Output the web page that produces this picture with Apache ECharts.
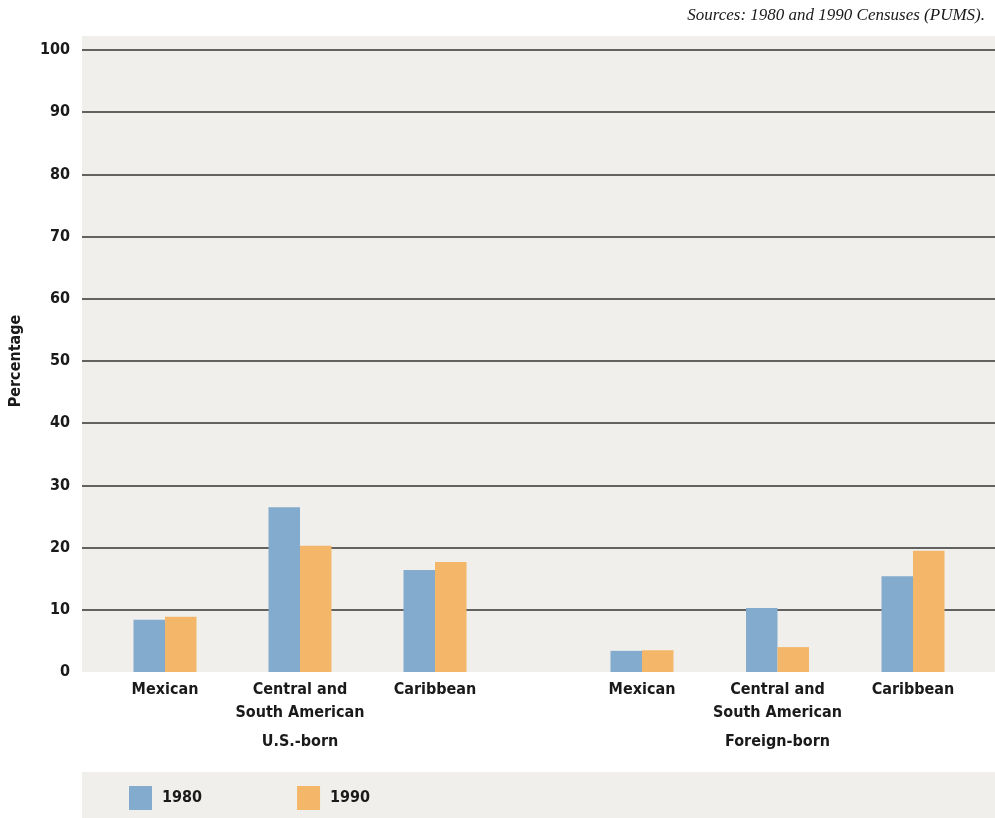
<!DOCTYPE html>
<html>
<head>
<meta charset="utf-8">
<script src="https://cdn.jsdelivr.net/npm/echarts@6/dist/echarts.min.js"></script>
<style>html,body{margin:0;padding:0;background:#fff;}#c{width:995px;height:818px;}</style>
</head>
<body>
<div id="c"></div>
<script>
var categories = ['Mexican', 'Central and\nSouth American', 'Caribbean'];
var groups = ['U.S.-born', 'Foreign-born'];
var seriesNames = ['1980', '1990'];
var usBorn1980 = [8.4, 26.5, 16.4];
var usBorn1990 = [8.9, 20.3, 17.7];
var foreign1980 = [3.4, 10.3, 15.4];
var foreign1990 = [3.5, 4.0, 19.5];
var yTicks = [0, 100, 10];

var FONT = "'Liberation Sans Narrow', 'DejaVu Sans Condensed', 'Liberation Sans', sans-serif";
var BLUE = '#82abcd', ORANGE = '#f4b669', BG = '#f0efeb';
var TXT = {fontFamily: FONT, fontSize: 16, color: '#1a1a1a', fontWeight: 'bold'};

var chart = echarts.init(document.getElementById('c'), null, {renderer: 'canvas'});
var catAxis = function (gi, name) {
  return {
    type: 'category', gridIndex: gi, data: categories,
    axisLine: {show: false}, axisTick: {show: false},
    axisLabel: Object.assign({interval: 0, margin: 6, lineHeight: 23}, TXT),
    name: name, nameLocation: 'middle', nameGap: 62,
    nameTextStyle: Object.assign({}, TXT)
  };
};
var hiddenY = function (gi) {
  return {type: 'value', gridIndex: gi, min: yTicks[0], max: yTicks[1], interval: yTicks[2], show: false, splitLine: {show: false}};
};
var gridColors = ['rgba(0,0,0,0)'];
for (var i = 1; i <= 10; i++) gridColors.push('#333333');

chart.setOption({
  animation: false,
  textStyle: {fontFamily: FONT},
  graphic: [
    {type: 'rect', z: -10, shape: {x: 82, y: 36, width: 913, height: 636}, style: {fill: BG}},
    {type: 'rect', z: -10, shape: {x: 82, y: 772, width: 913, height: 46}, style: {fill: BG}},
    {type: 'text', right: 10, top: 7, style: {text: 'Sources: 1980 and 1990 Censuses (PUMS).', font: 'italic 17px "Liberation Serif", serif', fill: '#1a1a1a'}}
  ],
  legend: {
    left: 129, top: 786, padding: 0, itemWidth: 23, itemHeight: 24, itemGap: 95,
    icon: 'rect',
    data: seriesNames,
    textStyle: Object.assign({padding: [0, 0, 0, 5]}, TXT)
  },
  grid: [
    {left: 82, right: 0, top: 50, bottom: 146, outerBoundsMode: 'none', containLabel: false},
    {left: 97.5, width: 405, top: 50, bottom: 146, outerBoundsMode: 'none', containLabel: false},
    {left: 574.25, width: 406.5, top: 50, bottom: 146, outerBoundsMode: 'none', containLabel: false}
  ],
  xAxis: [
    {type: 'value', gridIndex: 0, show: false, min: 0, max: 1, splitLine: {show: false}},
    catAxis(1, groups[0]),
    catAxis(2, groups[1])
  ],
  yAxis: [
    {
      type: 'value', gridIndex: 0, min: yTicks[0], max: yTicks[1], interval: yTicks[2],
      axisLine: {show: false}, axisTick: {show: false},
      axisLabel: Object.assign({margin: 12}, TXT),
      splitLine: {show: true, lineStyle: {color: gridColors, width: 1.5}},
      name: 'Percentage', nameLocation: 'middle', nameGap: 58, nameRotate: 90,
      nameTextStyle: Object.assign({}, TXT)
    },
    hiddenY(1),
    hiddenY(2)
  ],
  series: [
    {name: seriesNames[0], type: 'bar', xAxisIndex: 1, yAxisIndex: 1, data: usBorn1980, barWidth: 31.5, barGap: '0%', itemStyle: {color: BLUE}},
    {name: seriesNames[1], type: 'bar', xAxisIndex: 1, yAxisIndex: 1, data: usBorn1990, barWidth: 31.5, barGap: '0%', itemStyle: {color: ORANGE}},
    {name: seriesNames[0], type: 'bar', xAxisIndex: 2, yAxisIndex: 2, data: foreign1980, barWidth: 31.5, barGap: '0%', itemStyle: {color: BLUE}},
    {name: seriesNames[1], type: 'bar', xAxisIndex: 2, yAxisIndex: 2, data: foreign1990, barWidth: 31.5, barGap: '0%', itemStyle: {color: ORANGE}}
  ]
});
</script>
</body>
</html>
